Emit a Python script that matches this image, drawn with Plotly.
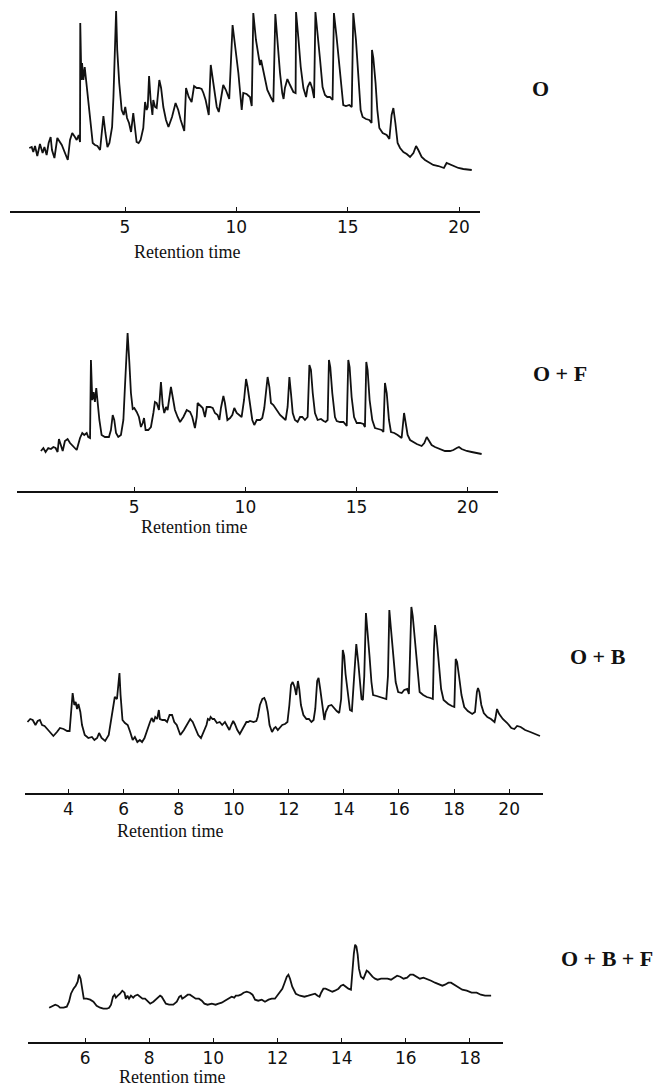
import plotly.graph_objects as go

W, H = 658, 1086

# ---------------- Panel 1 : O ----------------
t_o = [0.70,0.81,0.88,0.96,1.06,1.18,1.30,1.38,1.48,1.57,1.66,1.72,1.83,1.96,2.16,2.28,2.43,2.53,2.63,2.75,2.83,2.92,2.98,2.99,
       3.04,3.07,3.13,3.19,3.28,3.43,3.55,3.65,3.76,3.88,3.95,4.03,4.12,4.21,4.30,4.42,4.48,4.54,4.60,4.65,4.74,4.85,4.94,5.01,
       5.09,5.18,5.27,5.37,5.45,5.52,5.61,5.70,5.82,5.90,5.97,6.02,6.08,6.15,6.23,6.27,6.35,6.42,6.54,6.62,6.72,6.84,6.95,7.11,
       7.27,7.39,7.50,7.66,7.74,7.86,7.99,8.10,8.22,8.32,8.44,8.52,8.62,8.76,8.85,8.97,9.12,9.21,9.31,9.41,9.53,9.68,9.83,9.94,
       10.09,10.24,10.31,10.46,10.61,10.69,10.76,10.88,10.99,11.06,11.11,11.18,11.29,11.39,11.54,11.66,11.75,11.84,11.96,12.06,
       12.12,12.18,12.29,12.41,12.56,12.66,12.68,12.78,12.89,13.01,13.13,13.20,13.31,13.40,13.49,13.55,13.64,13.76,13.87,13.98,
       14.08,14.20,14.32,14.38,14.50,14.62,14.74,14.80,14.92,15.07,15.18,15.25,15.37,15.49,15.58,15.67,15.82,15.97,16.07,16.09,
       16.15,16.25,16.33,16.42,16.57,16.75,16.87,16.97,17.05,17.14,17.24,17.35,17.50,17.65,17.80,17.95,18.07,18.17,18.32,18.47,
       18.66,18.84,19.07,19.22,19.32,19.44,19.56,19.74,19.97,20.19,20.42,20.57]
r_o = [63,64,59,65,55,67,58,64,56,68,74,61,53,73,66,59,51,71,78,74,71,76,69,188,
       131,148,131,144,124,98,68,66,65,61,74,95,78,64,68,84,114,158,200,161,128,101,96,104,
       93,88,79,98,81,69,68,71,83,109,101,104,135,111,96,111,104,103,131,123,104,91,84,94,
       108,101,91,80,123,114,109,125,123,123,122,118,111,96,146,126,104,99,114,126,121,112,186,168,
       138,101,118,117,114,105,198,171,154,146,151,144,131,121,114,109,197,171,138,118,
       112,123,132,126,119,118,199,174,144,123,114,124,129,123,113,199,181,151,124,116,
       114,114,111,198,174,144,118,106,105,106,104,198,171,128,101,94,92,91,88,161,
       153,128,101,83,78,76,72,96,103,88,68,63,59,57,54,58,65,61,54,51,
       48,46,45,44,43,48,47,45,43,42,41,41]

# ---------------- Panel 2 : O + F ----------------
t_of = [0.80,0.91,1.01,1.13,1.25,1.36,1.46,1.55,1.61,1.70,1.78,1.88,2.00,2.11,2.26,2.41,2.56,2.66,2.75,2.86,2.93,3.01,3.05,
        3.11,3.17,3.23,3.29,3.35,3.43,3.53,3.68,3.86,3.95,4.03,4.10,4.18,4.28,4.40,4.51,4.58,4.66,4.70,4.78,4.85,4.93,5.00,
        5.11,5.21,5.30,5.38,5.44,5.51,5.63,5.75,5.86,5.93,6.01,6.11,6.20,6.28,6.35,6.43,6.50,6.59,6.65,6.73,6.83,6.95,7.06,
        7.21,7.36,7.51,7.61,7.73,7.81,7.85,7.96,8.08,8.18,8.26,8.41,8.53,8.63,8.75,8.83,8.90,9.01,9.08,9.19,9.31,9.41,9.50,
        9.61,9.71,9.83,9.94,10.03,10.10,10.21,10.31,10.40,10.51,10.66,10.76,10.85,10.93,11.00,11.08,11.15,11.26,11.41,11.56,
        11.71,11.81,11.90,11.98,12.05,12.13,12.23,12.35,12.46,12.56,12.68,12.80,12.88,12.95,13.03,13.13,13.25,13.40,13.52,
        13.61,13.70,13.76,13.82,13.91,14.03,14.11,14.26,14.41,14.56,14.63,14.69,14.78,14.89,15.01,15.16,15.31,15.38,15.44,
        15.50,15.59,15.71,15.83,15.98,16.13,16.21,16.28,16.36,16.46,16.55,16.70,16.85,16.96,17.03,17.14,17.21,17.30,17.41,
        17.56,17.71,17.93,18.05,18.16,18.26,18.38,18.53,18.76,18.98,19.21,19.36,19.51,19.61,19.73,19.96,20.18,20.41,20.63]
r_of = [40,43,39,43,42,44,43,39,52,44,40,50,52,48,44,41,53,58,56,58,54,53,131,
        91,99,89,103,88,71,56,54,54,61,76,71,58,54,56,71,104,138,158,128,98,82,83,
        79,74,64,68,73,61,61,64,78,89,88,81,109,86,78,84,81,98,104,94,81,74,69,
        74,81,79,74,63,74,88,86,83,74,84,84,83,78,76,71,83,95,88,71,73,76,83,
        78,76,74,91,112,104,84,71,66,71,71,73,83,98,114,104,88,86,81,76,
        73,71,84,114,98,78,71,69,74,74,71,74,126,121,98,78,71,72,70,
        69,71,131,124,98,74,70,69,69,65,131,124,94,74,68,68,67,64,129,
        121,91,71,63,62,61,59,108,98,71,59,58,56,54,53,78,69,56,51,
        49,47,45,48,54,50,46,44,42,40,40,41,43,44,42,40,39,38,37]

# ---------------- Panel 3 : O + B ----------------
t_ob = [2.51,2.61,2.70,2.80,2.88,2.96,3.04,3.13,3.26,3.45,3.58,3.69,3.82,3.95,4.04,4.10,4.15,4.21,4.26,4.31,4.36,4.43,4.49,
        4.59,4.72,4.85,4.94,5.04,5.11,5.20,5.33,5.46,5.55,5.63,5.68,5.76,5.81,5.85,5.89,5.96,6.05,6.15,6.24,6.33,6.41,6.50,
        6.59,6.67,6.76,6.85,6.96,7.02,7.09,7.15,7.22,7.28,7.32,7.41,7.50,7.58,7.67,7.76,7.84,7.93,8.06,8.19,8.32,8.42,8.51,
        8.62,8.71,8.81,8.90,9.01,9.06,9.12,9.16,9.23,9.29,9.39,9.49,9.58,9.68,9.74,9.84,9.91,9.98,10.04,10.13,10.22,10.30,
        10.39,10.46,10.52,10.59,10.72,10.82,10.87,10.95,11.04,11.11,11.17,11.24,11.30,11.39,11.47,11.52,11.60,11.69,11.76,
        11.86,11.95,12.02,12.08,12.14,12.21,12.27,12.33,12.38,12.44,12.53,12.64,12.73,12.82,12.90,12.96,13.03,13.08,13.14,
        13.21,13.29,13.34,13.44,13.55,13.64,13.74,13.83,13.90,13.96,14.01,14.06,14.16,14.22,14.29,14.35,14.45,14.52,14.58,
        14.64,14.69,14.74,14.80,14.87,14.93,15.00,15.06,15.19,15.32,15.45,15.54,15.60,15.65,15.70,15.78,15.88,15.97,16.10,
        16.19,16.30,16.36,16.40,16.45,16.50,16.56,16.66,16.75,16.88,17.01,17.14,17.23,17.27,17.31,17.36,17.44,17.53,17.62,
        17.79,17.92,18.01,18.06,18.11,18.18,18.27,18.37,18.50,18.66,18.76,18.83,18.87,18.92,18.99,19.08,19.21,19.34,19.47,
        19.51,19.56,19.64,19.77,19.93,20.08,20.19,20.29,20.42,20.58,20.77,20.97,21.12]
r_ob = [71,74,73,68,72,73,68,67,63,57,61,65,64,62,62,81,100,88,91,84,89,81,68,
        58,55,56,53,55,60,55,52,58,75,91,96,94,109,120,98,73,70,68,61,53,56,51,
        53,51,55,63,71,75,71,76,74,83,74,73,73,71,78,78,71,68,58,63,69,74,71,
        63,58,55,61,68,74,73,76,74,74,70,71,68,71,68,63,68,72,69,63,59,63,
        68,71,71,72,71,72,76,88,94,95,91,81,68,61,65,66,63,66,68,
        69,71,88,108,111,106,98,112,104,88,78,74,74,71,73,84,112,115,104,
        88,73,81,87,88,85,82,80,94,143,137,119,93,83,82,104,149,131,108,
        94,93,117,180,160,137,111,98,97,96,95,94,117,183,167,141,111,101,100,
        103,104,99,144,186,177,157,127,101,98,96,95,94,144,168,157,131,104,93,
        89,87,86,134,131,117,98,86,82,79,81,101,105,101,88,80,76,74,71,
        76,84,79,74,70,65,64,67,66,63,61,59,57]

# ---------------- Panel 4 : O + B + F ----------------
t_obf = [4.88,4.96,5.07,5.15,5.22,5.33,5.43,5.50,5.56,5.64,5.71,5.77,5.81,5.86,5.90,5.96,6.05,6.16,6.26,6.36,6.47,6.57,
         6.68,6.75,6.81,6.87,6.92,6.96,7.02,7.09,7.16,7.23,7.27,7.32,7.37,7.43,7.50,7.56,7.64,7.72,7.79,7.87,7.95,8.03,
         8.13,8.23,8.34,8.39,8.44,8.52,8.62,8.75,8.86,8.94,8.99,9.03,9.12,9.20,9.27,9.35,9.45,9.55,9.64,9.72,9.82,9.95,
         10.07,10.16,10.26,10.36,10.47,10.57,10.65,10.70,10.78,10.86,10.94,11.04,11.14,11.22,11.30,11.40,11.51,11.61,11.72,
         11.82,11.92,12.01,12.08,12.15,12.21,12.29,12.34,12.39,12.46,12.57,12.70,12.84,12.96,13.07,13.17,13.25,13.31,13.36,
         13.43,13.50,13.61,13.71,13.79,13.90,13.98,14.05,14.13,14.21,14.29,14.33,14.38,14.42,14.46,14.50,14.54,14.60,14.68,
         14.73,14.78,14.83,14.88,14.96,15.04,15.12,15.23,15.33,15.43,15.54,15.64,15.73,15.83,15.93,16.04,16.14,16.23,16.34,
         16.44,16.55,16.65,16.79,16.91,17.03,17.14,17.22,17.33,17.41,17.51,17.64,17.76,17.90,18.05,18.21,18.34,18.47,18.66]
r_obf = [34,35,37,36,34,34,35,40,48,53,56,60,67,63,53,43,43,42,40,36,34,33,
         33,34,37,45,47,44,46,48,51,49,43,46,43,46,44,46,47,45,43,43,40,38,
         40,43,46,45,42,38,37,37,40,45,46,43,45,47,47,45,43,43,41,38,37,38,
         37,38,39,41,43,45,44,46,46,47,49,50,49,47,42,41,42,40,42,
         43,43,47,51,53,58,65,67,63,55,48,46,45,46,47,48,46,45,49,
         53,53,51,50,51,53,56,57,55,53,52,73,88,97,95,87,73,65,63,
         67,71,70,68,65,63,62,63,63,63,62,64,66,65,63,64,67,67,65,
         63,64,63,61,59,57,56,57,59,59,57,54,52,51,49,49,47,46,46]

labels = ["O", "O + F", "O + B", "O + B + F"]
x_title = "Retention time"
ticks_20 = [5, 10, 15, 20]
ticks_o_b = [4, 6, 8, 10, 12, 14, 16, 18, 20]
ticks_obf = [6, 8, 10, 12, 14, 16, 18]

# layout geometry in pixels
panels = [
    dict(t=t_o,   r=r_o,   xl=10,   xr=480,   yb=211,  yt=5,   tmin=-0.165, tmax=20.94, rmin=0, ticks=ticks_20,
         tx=187, ty=252, lx=540, ly=89, lab=labels[0]),
    dict(t=t_of,  r=r_of,  xl=16.7, xr=498.3, yb=491,  yt=321, tmin=-0.29, tmax=21.38, rmin=0, ticks=ticks_20,
         tx=194, ty=527, lx=560, ly=373, lab=labels[1]),
    dict(t=t_ob,  r=r_ob,  xl=25,   xr=543,   yb=793,  yt=600, tmin=2.42, tmax=21.23, rmin=0, ticks=ticks_o_b,
         tx=170, ty=831, lx=598, ly=656, lab=labels[2]),
    dict(t=t_obf, r=r_obf, xl=28.3, xr=503.3, yb=1041.7, yt=930, tmin=4.23, tmax=19.04, rmin=0, ticks=ticks_obf,
         tx=172, ty=1077, lx=607, ly=958, lab=labels[3]),
]

fig = go.Figure()
layout = dict(width=W, height=H, margin=dict(l=0, r=0, t=0, b=0),
              paper_bgcolor="white", plot_bgcolor="white", showlegend=False)
annotations = []
for i, p in enumerate(panels, start=1):
    xa = "x" if i == 1 else f"x{i}"
    ya = "y" if i == 1 else f"y{i}"
    fig.add_trace(go.Scatter(x=p["t"], y=p["r"], mode="lines", xaxis=xa, yaxis=ya,
                             line=dict(color="#111111", width=1.8), hoverinfo="skip"))
    xkey = "xaxis" if i == 1 else f"xaxis{i}"
    ykey = "yaxis" if i == 1 else f"yaxis{i}"
    span = p["yb"] - p["yt"]
    layout[xkey] = dict(domain=[p["xl"] / W, p["xr"] / W], range=[p["tmin"], p["tmax"]], anchor=ya,
                        showline=True, linecolor="#111111", linewidth=1.5, showgrid=False, zeroline=False,
                        ticks="inside", ticklen=4, tickwidth=1.4, tickcolor="#111111",
                        tickvals=p["ticks"], ticktext=[str(v) for v in p["ticks"]],
                        tickfont=dict(family="DejaVu Sans", size=17, color="#111111"))
    layout[ykey] = dict(domain=[1 - p["yb"] / H, 1 - p["yt"] / H], range=[p["rmin"], p["rmin"] + span],
                        anchor=xa, visible=False, showgrid=False, zeroline=False)
    annotations.append(dict(x=p["tx"] / W, y=1 - p["ty"] / H, xref="paper", yref="paper", text=x_title,
                            showarrow=False, xanchor="center", yanchor="middle",
                            font=dict(family="Liberation Serif", size=18, color="#111111")))
    annotations.append(dict(x=p["lx"] / W, y=1 - p["ly"] / H, xref="paper", yref="paper",
                            text="<b>" + p["lab"] + "</b>", showarrow=False, xanchor="center", yanchor="middle",
                            font=dict(family="Liberation Serif", size=22, color="#111111")))
layout["annotations"] = annotations
fig.update_layout(**layout)
fig.write_html("out.html", config={"displayModeBar": False},
               post_script="document.body.style.margin='0';document.body.style.overflow='hidden';")
